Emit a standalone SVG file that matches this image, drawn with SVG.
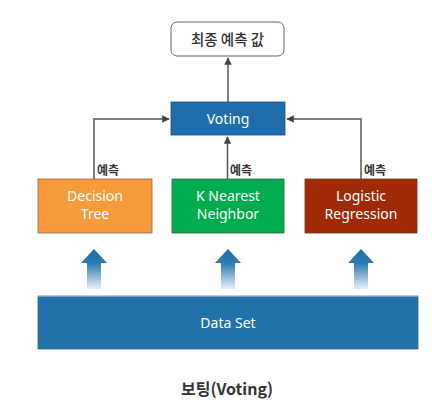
<svg xmlns="http://www.w3.org/2000/svg" width="432" height="419" viewBox="0 0 432 419">
<style>
.lbl{font-family:"Noto Sans","Noto Sans CJK KR",sans-serif;font-size:14px;fill:#fff;text-anchor:middle}
.dark{fill:#333}
.small{font-family:"Noto Sans CJK KR",sans-serif;font-size:12px;fill:#333;font-weight:bold}
.conn{fill:none;stroke:#555;stroke-width:1.5}
</style>
<defs>
<marker id="ah" viewBox="0 0 10 10" refX="9" refY="5" markerWidth="5" markerHeight="5" orient="auto">
<path d="M0,0 L10,5 L0,10 z" fill="#444"/>
</marker>
<linearGradient id="bg" x1="0" y1="0" x2="0" y2="1">
<stop offset="0" stop-color="#1f6ea8"/>
<stop offset="0.35" stop-color="#2e7ab2"/>
<stop offset="1" stop-color="#e6f0f8"/>
</linearGradient>
</defs>
<rect width="432" height="419" fill="#fff"/>
<g id="final">
<rect x="171" y="22" width="113" height="34" rx="6" fill="#fff" stroke="#666" stroke-width="1"/>
<text x="227.5" y="44.5" font-family="Noto Sans CJK KR,sans-serif" font-size="14.5" font-weight="500" fill="#333" text-anchor="middle">최종 예측 값</text>
</g>
<g id="voting">
<rect x="171" y="102" width="114" height="33" fill="#1f6eab" stroke="#1a4f7a" stroke-width="0.8"/>
<text x="228" y="123.5" class="lbl">Voting</text>
</g>
<g id="dt">
<rect x="38" y="179" width="114" height="54" fill="#f79a3b" stroke="#8a6a55" stroke-width="0.8"/>
<text x="95" y="201" class="lbl">Decision</text>
<text x="95" y="219" class="lbl">Tree</text>
</g>
<g id="knn">
<rect x="172" y="179" width="112" height="54" fill="#00ac4e" stroke="#2a6a45" stroke-width="0.8"/>
<text x="228" y="201" class="lbl">K Nearest</text>
<text x="228" y="219" class="lbl">Neighbor</text>
</g>
<g id="lr">
<rect x="305" y="179" width="112" height="54" fill="#a02a04" stroke="#6a3520" stroke-width="0.8"/>
<text x="361" y="201" class="lbl">Logistic</text>
<text x="361" y="219" class="lbl">Regression</text>
</g>
<g id="dataset">
<rect x="38" y="296" width="380" height="53" fill="#2272a9" stroke="#3a6a90" stroke-width="0.8"/>
<line x1="38" y1="296" x2="418" y2="296" stroke="#c8d6e2" stroke-width="1"/>
<text x="228" y="328" class="lbl">Data Set</text>
</g>
<g id="connectors">
<path class="conn" d="M228,102 V58" marker-end="url(#ah)"/>
<path class="conn" d="M94,179 V119 H169" marker-end="url(#ah)"/>
<path class="conn" d="M227.5,179 V137" marker-end="url(#ah)"/>
<path class="conn" d="M361,179 V119 H287" marker-end="url(#ah)"/>
<text x="97" y="175" class="small">예측</text>
<text x="230" y="175" class="small">예측</text>
<text x="364" y="175" class="small">예측</text>
<path d="M94,249 L107,263 L101,263 L101,289 L87,289 L87,263 L81,263 Z" fill="url(#bg)"/>
<path d="M228,249 L241,263 L235,263 L235,289 L221,289 L221,263 L215,263 Z" fill="url(#bg)"/>
<path d="M361,249 L374,263 L368,263 L368,289 L354,289 L354,263 L348,263 Z" fill="url(#bg)"/>
</g>
<g id="caption">
<text x="227" y="395" font-family="Noto Sans CJK KR,sans-serif" font-size="16" font-weight="bold" fill="#333" text-anchor="middle">보팅(Voting)</text>
</g>
</svg>
